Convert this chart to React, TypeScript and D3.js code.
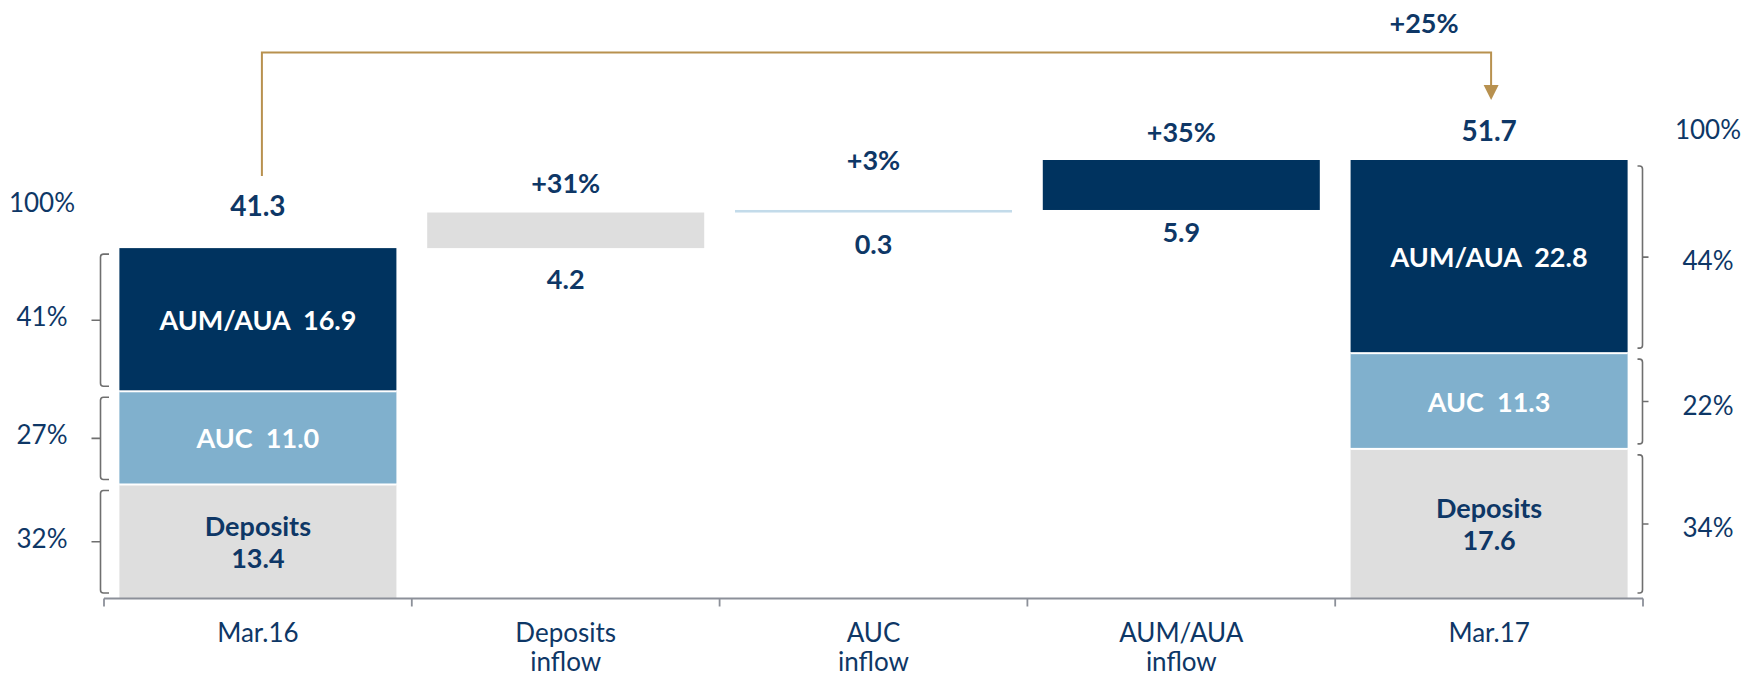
import { useEffect, useRef } from 'react';
import * as d3 from 'd3';

// columns on the x axis, two-line labels
const categories = ['Mar.16', 'Deposits inflow', 'AUC inflow', 'AUM/AUA inflow', 'Mar.17'];
const categoryLines = [['Mar.16'], ['Deposits', 'inflow'], ['AUC', 'inflow'], ['AUM/AUA', 'inflow'], ['Mar.17']];

// stacked totals (bottom to top): Deposits, AUC, AUM/AUA
const segmentNames = ['Deposits', 'AUC', 'AUM/AUA'];
const mar16Values = [13.4, 11.0, 16.9];
const mar17Values = [17.6, 11.3, 22.8];
const mar16Shares = ['32%', '27%', '41%'];
const mar17Shares = ['34%', '22%', '44%'];

// inflows between the two totals
const inflowValues = [4.2, 0.3, 5.9];
const inflowGrowth = ['+31%', '+3%', '+35%'];
const totalGrowth = '+25%';

const NAVY = '#00335f';
const LIGHT_BLUE = '#80b0cd';
const GREY = '#dedede';
const GOLD = '#b8914f';
const TEXT = '#0e3766';
const AXIS = '#8c9099';
const FONT = 'Lato, "Open Sans", sans-serif';
const REG = 26;
const BOLD = 27;

export default function App() {
    const ref = useRef<SVGSVGElement>(null);

    useEffect(() => {
        const width = 1758, height = 678;
        const svg = d3.select(ref.current);
        svg.selectAll('*').remove();

        const x = d3.scaleBand()
            .domain(categories)
            .range([104, 1643])
            .paddingInner(0.1)
            .paddingOuter(0.05);
        const total16 = d3.sum(mar16Values);
        const total17 = d3.sum(mar17Values);
        const y = d3.scaleLinear().domain([0, total17]).range([598, 160]);

        const segColors = [GREY, LIGHT_BLUE, NAVY];
        const segText = [TEXT, '#ffffff', '#ffffff'];

        // stacked bars
        const drawStack = (cat: string, values: number[]) => {
            let base = 0;
            const bx = x(cat)!;
            const bw = x.bandwidth();
            values.forEach((v, i) => {
                const y0 = y(base), y1 = y(base + v);
                svg.append('rect')
                    .attr('x', bx).attr('y', y1)
                    .attr('width', bw).attr('height', y0 - y1 - (i > 0 ? 1 : 0))
                    .attr('fill', segColors[i]);
                if (i < values.length - 1) {
                    svg.append('rect')
                        .attr('x', bx).attr('y', y1 - 1)
                        .attr('width', bw).attr('height', 2)
                        .attr('fill', '#fff');
                }
                const cy = (y0 + y1) / 2;
                const t = svg.append('text')
                    .attr('x', bx + bw / 2)
                    .attr('text-anchor', 'middle')
                    .attr('dominant-baseline', 'central')
                    .attr('font-family', FONT)
                    .attr('font-weight', 700)
                    .attr('font-size', BOLD)
                    .attr('fill', segText[i]);
                if (i === 0) {
                    t.append('tspan').attr('x', bx + bw / 2).attr('y', cy - 16).text(segmentNames[i]);
                    t.append('tspan').attr('x', bx + bw / 2).attr('y', cy + 16).text(v.toFixed(1));
                } else {
                    t.attr('y', cy).attr('xml:space', 'preserve').text(`${segmentNames[i]}  ${v.toFixed(1)}`);
                }
                base += v;
            });
        };
        drawStack('Mar.16', mar16Values);
        drawStack('Mar.17', mar17Values);

        // braces with share labels
        const drawBraces = (values: number[], shares: string[], side: 'left' | 'right') => {
            let base = 0;
            const vx = side === 'left' ? 100.5 : 1642.5;
            const hook = side === 'left' ? 8.5 : -5;
            const tick = side === 'left' ? -9 : 6;
            const labelX = side === 'left' ? 42 : 1708;
            values.forEach((v, i) => {
                const y0 = y(base) - 5, y1 = y(base + v) + 6;
                const mid = (y0 + y1) / 2;
                const r = 3;
                const p = d3.path();
                p.moveTo(vx + hook, y1);
                p.lineTo(vx + Math.sign(hook) * r, y1);
                p.quadraticCurveTo(vx, y1, vx, y1 + r);
                p.lineTo(vx, y0 - r);
                p.quadraticCurveTo(vx, y0, vx + Math.sign(hook) * r, y0);
                p.lineTo(vx + hook, y0);
                p.moveTo(vx, mid);
                p.lineTo(vx + tick, mid);
                svg.append('path').attr('d', p.toString())
                    .attr('fill', 'none').attr('stroke', '#6f6f6f').attr('stroke-width', 1.6);
                svg.append('text')
                    .attr('x', labelX).attr('y', mid + (side === 'left' ? -4 : 3))
                    .attr('text-anchor', 'middle').attr('dominant-baseline', 'central')
                    .attr('font-family', FONT).attr('font-size', REG).attr('fill', TEXT)
                    .text(shares[i]);
                base += v;
            });
        };
        drawBraces(mar16Values, mar16Shares, 'left');
        drawBraces(mar17Values, mar17Shares, 'right');

        // 100% labels
        svg.append('text').attr('x', 42).attr('y', y(total16) - 46)
            .attr('text-anchor', 'middle').attr('dominant-baseline', 'central')
            .attr('font-family', FONT).attr('font-size', REG).attr('fill', TEXT).text('100%');
        svg.append('text').attr('x', 1708).attr('y', y(total17) - 31)
            .attr('text-anchor', 'middle').attr('dominant-baseline', 'central')
            .attr('font-family', FONT).attr('font-size', REG).attr('fill', TEXT).text('100%');

        // totals
        const totalLabel = (cat: string, v: number, off: number) => {
            svg.append('text')
                .attr('x', x(cat)! + x.bandwidth() / 2).attr('y', y(v) - off)
                .attr('text-anchor', 'middle').attr('dominant-baseline', 'central')
                .attr('font-family', FONT).attr('font-weight', 700).attr('font-size', BOLD + 1)
                .attr('fill', TEXT).text(v.toFixed(1));
        };
        totalLabel('Mar.16', total16, 43);
        totalLabel('Mar.17', total17, 30);

        // inflow bars
        const inflowColors = [GREY, '#c3dbea', NAVY];
        const aboveOff = [30, 50, 29];
        const belowOff = [30, 31, 22];
        let level = total16;
        inflowValues.forEach((v, i) => {
            const cat = categories[i + 1];
            const bx = x(cat)!;
            const bw = x.bandwidth();
            const yTop = y(level + v), yBot = y(level);
            svg.append('rect')
                .attr('x', bx).attr('y', yTop)
                .attr('width', bw).attr('height', Math.max(yBot - yTop, 2))
                .attr('fill', inflowColors[i]);
            svg.append('text')
                .attr('x', bx + bw / 2).attr('y', yTop - aboveOff[i])
                .attr('text-anchor', 'middle').attr('dominant-baseline', 'central')
                .attr('font-family', FONT).attr('font-weight', 700).attr('font-size', BOLD)
                .attr('fill', TEXT).text(inflowGrowth[i]);
            svg.append('text')
                .attr('x', bx + bw / 2).attr('y', yBot + belowOff[i])
                .attr('text-anchor', 'middle').attr('dominant-baseline', 'central')
                .attr('font-family', FONT).attr('font-weight', 700).attr('font-size', BOLD)
                .attr('fill', TEXT).text(v.toFixed(1));
            level += v;
        });

        // x axis with ticks at band edges
        const [r0, r1] = x.range();
        const axisY = y(0) + 0.5;
        svg.append('line')
            .attr('x1', r0).attr('x2', r1).attr('y1', axisY).attr('y2', axisY)
            .attr('stroke', AXIS).attr('stroke-width', 1.8);
        d3.range(categories.length + 1).forEach(i => {
            const tx = r0 + i * x.step();
            svg.append('line')
                .attr('x1', tx).attr('x2', tx).attr('y1', axisY).attr('y2', axisY + 8)
                .attr('stroke', AXIS).attr('stroke-width', 1.8);
        });
        categories.forEach((cat, i) => {
            const t = svg.append('text')
                .attr('text-anchor', 'middle')
                .attr('font-family', FONT).attr('font-size', REG).attr('fill', TEXT);
            categoryLines[i].forEach((line, j) => {
                t.append('tspan')
                    .attr('x', x(cat)! + x.bandwidth() / 2)
                    .attr('y', 632 + j * 29)
                    .attr('dominant-baseline', 'central')
                    .text(line);
            });
        });

        // growth connector
        const fromX = x('Mar.16')! + x.bandwidth() / 2 + 4;
        const toX = x('Mar.17')! + x.bandwidth() / 2 + 2;
        const topY = 52.5;
        svg.append('path')
            .attr('d', `M${fromX},${y(total16) - 72}V${topY}H${toX}V${y(total17) - 75}`)
            .attr('fill', 'none').attr('stroke', GOLD).attr('stroke-width', 2);
        const tipY = y(total17) - 60;
        svg.append('path')
            .attr('d', `M${toX - 7.5},${tipY - 15}L${toX + 7.5},${tipY - 15}L${toX},${tipY}Z`)
            .attr('fill', GOLD);
        svg.append('text')
            .attr('x', toX - 67).attr('y', 22)
            .attr('text-anchor', 'middle').attr('dominant-baseline', 'central')
            .attr('font-family', FONT).attr('font-weight', 700).attr('font-size', BOLD)
            .attr('fill', TEXT).text(totalGrowth);

        svg.attr('width', width).attr('height', height);
    }, []);

    return (
        <div style={{ position: 'absolute', left: 0, top: 0 }}>
            <svg ref={ref} width={1758} height={678} style={{ display: 'block', background: '#fff' }} />
        </div>
    );
}
